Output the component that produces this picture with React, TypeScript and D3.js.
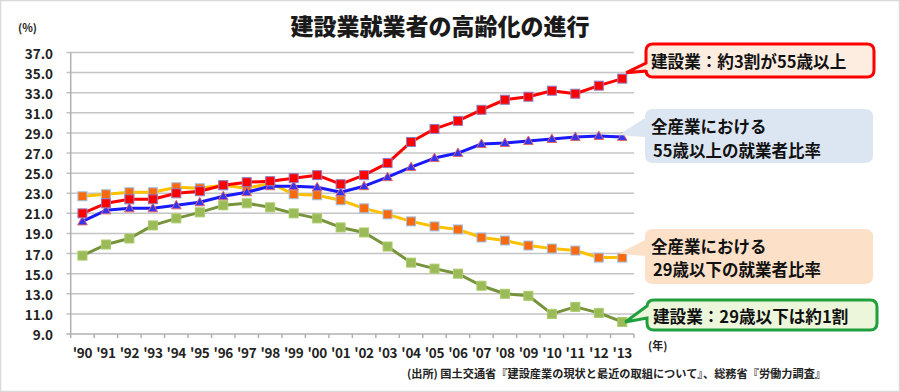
import * as d3 from "d3";

const YEARS = ["'90", "'91", "'92", "'93", "'94", "'95", "'96", "'97", "'98", "'99", "'00", "'01", "'02", "'03", "'04", "'05", "'06", "'07", "'08", "'09", "'10", "'11", "'12", "'13"];

// 建設業 55歳以上
const CONS_55 = [21.0, 22.0, 22.4, 22.4, 23.0, 23.2, 23.8, 24.1, 24.2, 24.5, 24.8, 23.9, 24.8, 26.0, 28.1, 29.4, 30.2, 31.3, 32.3, 32.6, 33.2, 32.9, 33.7, 34.4];
// 全産業 55歳以上
const ALL_55 = [20.2, 21.3, 21.5, 21.5, 21.8, 22.1, 22.7, 23.1, 23.7, 23.7, 23.6, 23.1, 23.7, 24.6, 25.6, 26.5, 27.0, 27.9, 28.0, 28.2, 28.4, 28.6, 28.7, 28.6];
// 全産業 29歳以下
const ALL_29 = [22.7, 22.9, 23.1, 23.1, 23.6, 23.5, 23.8, 23.5, 24.0, 22.9, 22.8, 22.3, 21.5, 20.9, 20.2, 19.7, 19.4, 18.6, 18.3, 17.8, 17.5, 17.3, 16.6, 16.6];
// 建設業 29歳以下
const CONS_29 = [16.8, 17.9, 18.5, 19.8, 20.5, 21.1, 21.8, 22.0, 21.6, 21.0, 20.5, 19.6, 19.1, 17.7, 16.1, 15.5, 15.0, 13.8, 13.0, 12.8, 11.0, 11.7, 11.1, 10.2];

const Y_TICKS = [9, 11, 13, 15, 17, 19, 21, 23, 25, 27, 29, 31, 33, 35, 37];

const W = 900, H = 392;
const FONT = "'Noto Sans CJK JP', 'Noto Sans', sans-serif";

const x = d3.scaleBand<string>().domain(YEARS).range([70.7, 634]).padding(0);
const y = d3.scaleLinear().domain([9, 37]).range([334, 52.5]);
const cx = (d: string) => (x(d) ?? 0) + x.bandwidth() / 2;

type Marker = "square" | "triangle";
const SERIES: { values: number[]; line: string; fill: string; stroke: string; marker: Marker }[] = [
  { values: CONS_29, line: "#77933c", fill: "#9bbb59", stroke: "#aacb6a", marker: "square" },
  { values: ALL_29, line: "#ffc000", fill: "#f96a10", stroke: "#9dc3e6", marker: "square" },
  { values: ALL_55, line: "#1a1aff", fill: "#3434f0", stroke: "#e06666", marker: "triangle" },
  { values: CONS_55, line: "#ff0000", fill: "#ff0000", stroke: "#8e7cc3", marker: "square" },
];

// rounded box with a wedge on its left side pointing at (tx, ty)
function calloutPath(bx: number, by: number, bw: number, bh: number, r: number, a1: number, a2: number, tx: number, ty: number) {
  return `M${bx + r},${by} H${bx + bw - r} Q${bx + bw},${by} ${bx + bw},${by + r} V${by + bh - r} Q${bx + bw},${by + bh} ${bx + bw - r},${by + bh} H${bx + r} Q${bx},${by + bh} ${bx},${by + bh - r} V${a2} L${tx},${ty} L${bx},${a1} V${by + r} Q${bx},${by} ${bx + r},${by} Z`;
}

export default function App() {
  const line = d3.line<number>().x((_d, i) => cx(YEARS[i])).y((d) => y(d));
  const last = YEARS[YEARS.length - 1];
  const lx = cx(last);

  return (
    <svg width={W} height={H} style={{ position: "absolute", left: 0, top: 0, background: "#fff" }} fontFamily={FONT}>
      <rect x={0.5} y={0.5} width={W - 1} height={H - 1} fill="#fff" stroke="#d9d9d9" strokeWidth={1.5} />

      <text x={440} y={25} textAnchor="middle" dominantBaseline="central" fontSize={23} fontWeight={900} fill="#1a1a1a">
        建設業就業者の高齢化の進行
      </text>
      <text x={18} y={27} dominantBaseline="central" fontSize={11} fontWeight={700} fill="#222">(%)</text>

      {/* grid */}
      {Y_TICKS.map((t) => (
        <g key={t}>
          <line x1={66.5} x2={634} y1={y(t)} y2={y(t)} stroke={t === 9 ? "#b0b0b0" : "#c4c4c4"} strokeWidth={1.5} />
          <text x={53} y={y(t)} textAnchor="end" dominantBaseline="central" fontSize={13.5} fontWeight={700} fill="#222">
            {t.toFixed(1)}
          </text>
        </g>
      ))}
      <line x1={70.7} x2={70.7} y1={y(37)} y2={y(9) + 4} stroke="#b0b0b0" strokeWidth={1.5} />
      {YEARS.map((d) => (
        <g key={d}>
          <line x1={(x(d) ?? 0) + x.bandwidth()} x2={(x(d) ?? 0) + x.bandwidth()} y1={y(9)} y2={y(9) + 4} stroke="#b0b0b0" strokeWidth={1.5} />
          <text x={cx(d)} y={352} textAnchor="middle" dominantBaseline="central" fontSize={13.5} fontWeight={700} fill="#222" letterSpacing={-0.3}>
            {d}
          </text>
        </g>
      ))}
      <text x={648} y={345} dominantBaseline="central" fontSize={11} fontWeight={700} fill="#222">(年)</text>

      {/* series */}
      {SERIES.map((s, si) => (
        <g key={si}>
          <path d={line(s.values) ?? ""} fill="none" stroke={s.line} strokeWidth={3} strokeLinejoin="round" />
          {s.values.map((v, i) => {
            const px = cx(YEARS[i]), py = y(v);
            return s.marker === "square" ? (
              <rect key={i} x={px - 4.5} y={py - 4.5} width={9} height={9} fill={s.fill} stroke={s.stroke} strokeWidth={1} />
            ) : (
              <path key={i} d={`M${px},${py - 5} L${px + 4.8},${py + 3.5} L${px - 4.8},${py + 3.5} Z`} fill={s.fill} stroke={s.stroke} strokeWidth={1} />
            );
          })}
        </g>
      ))}

      {/* callouts */}
      <path d={calloutPath(646, 44, 228, 33, 7, 63, 71, lx + 4, y(CONS_55[23]) - 6)} fill="#fdece0" stroke="#ff0000" strokeWidth={3} />
      <text x={651} y={61} dominantBaseline="central" fontSize={16.6} fontWeight={700} fill="#111">建設業：約3割が55歳以上</text>

      <path d={calloutPath(645, 109, 228, 54, 8, 118, 137, lx - 4, y(ALL_55[23]) - 2)} fill="#dce6f2" />
      <text x={651} y={126} dominantBaseline="central" fontSize={16.5} fontWeight={700} fill="#111">全産業における</text>
      <text x={653} y={150} dominantBaseline="central" fontSize={16.5} fontWeight={700} fill="#111">55歳以上の就業者比率</text>

      <path d={calloutPath(645, 229, 228, 55, 8, 240, 256, lx - 4, y(ALL_29[23]) - 4)} fill="#fce0c8" />
      <text x={651} y={246} dominantBaseline="central" fontSize={16.5} fontWeight={700} fill="#111">全産業における</text>
      <text x={653} y={269} dominantBaseline="central" fontSize={16.5} fontWeight={700} fill="#111">29歳以下の就業者比率</text>

      <path d={calloutPath(647, 300, 230, 30, 7, 306, 318, lx + 3, y(CONS_29[23]))} fill="#ebf6da" stroke="#1fa03c" strokeWidth={3} />
      <text x={653} y={316} dominantBaseline="central" fontSize={16.6} fontWeight={700} fill="#111">建設業：29歳以下は約1割</text>

      <text x={407} y={373} dominantBaseline="central" fontSize={11.2} fontWeight={700} fill="#222">
        (出所) 国土交通省『建設産業の現状と最近の取組について』、総務省『労働力調査』
      </text>
    </svg>
  );
}
